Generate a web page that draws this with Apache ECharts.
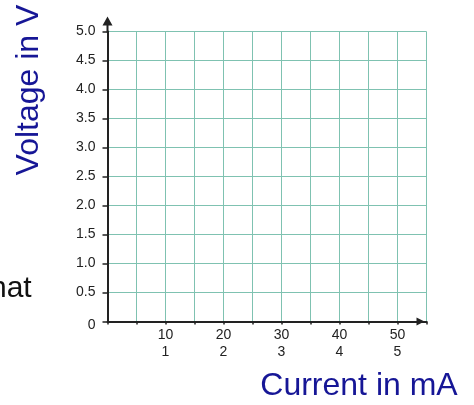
<!DOCTYPE html>
<html>
<head>
<meta charset="utf-8">
<script src="https://cdn.jsdelivr.net/npm/echarts@6/dist/echarts.min.js"></script>
<style>
html,body{margin:0;padding:0;background:#fff;}
#c{width:474px;height:405px;}
</style>
</head>
<body>
<div id="c"></div>
<script>
// Data
const currentMA = [10, 20, 30, 40, 50];
const currentSecondRow = [1, 2, 3, 4, 5];
const voltageTicks = [0, 0.5, 1.0, 1.5, 2.0, 2.5, 3.0, 3.5, 4.0, 4.5, 5.0];
const currentGrid = [5, 10, 15, 20, 25, 30, 35, 40, 45, 50, 55];
const xRange = [0, 55];
const xStep = 5;
const yStep = 0.5;
const yTitle = 'Voltage in V';
const xTitle = 'Current in mA';
const sideText = 'hat';
const seriesValues = [[0, 0]];

const chart = echarts.init(document.getElementById('c'), null, {renderer: 'canvas'});
const font = '"Liberation Sans", Arial, Helvetica, sans-serif';
const gridColor = '#7fc2b1';
const axisColor = '#222';

const gridLines = currentGrid.map(function (v) { return {xAxis: v}; })
  .concat(voltageTicks.slice(1).map(function (v) { return {yAxis: v}; }));

chart.setOption({
  animation: false,
  backgroundColor: '#fff',
  grid: {left: 107.5, right: 47.5, top: 31.5, bottom: 83.5, containLabel: false},
  xAxis: {
    type: 'value',
    min: xRange[0], max: xRange[1], interval: xStep,
    axisLine: {show: true, onZero: false, lineStyle: {color: axisColor, width: 2},
      symbol: ['none', 'path://M5,0 L10,10 L0,10 Z'], symbolSize: [8, 10], symbolOffset: [0, -6]},
    axisTick: {show: true, inside: false, length: 3, lineStyle: {color: axisColor, width: 1.5}},
    axisLabel: {
      show: true, margin: 5, color: axisColor, fontSize: 14, lineHeight: 17, fontFamily: font,
      formatter: function (v) {
        const i = currentMA.indexOf(Math.round(v));
        return i >= 0 ? currentMA[i] + '\n' + currentSecondRow[i] : '';
      }
    },
    splitLine: {show: false}
  },
  yAxis: {
    type: 'value',
    min: voltageTicks[0], max: voltageTicks[voltageTicks.length - 1], interval: yStep,
    axisLine: {show: true, onZero: false, lineStyle: {color: axisColor, width: 2},
      symbol: ['none', 'path://M5,0 L10,9 L6,9 L6,16 L4,16 L4,9 L0,9 Z'], symbolSize: [10, 16], symbolOffset: [0, 7]},
    axisTick: {show: true, inside: false, length: 5, lineStyle: {color: axisColor, width: 1.5}},
    axisLabel: {
      show: true, margin: 12, color: axisColor, fontSize: 14, fontFamily: font,
      formatter: function (v) {
        return v === 0 ? '{z|0}' : v.toFixed(1);
      },
      rich: {z: {fontSize: 14, color: axisColor, fontFamily: font, padding: [8, 0, 0, 0]}}
    },
    splitLine: {show: false}
  },
  series: [{
    type: 'line', data: seriesValues, symbol: 'none', silent: true,
    lineStyle: {opacity: 0, width: 0},
    markLine: {
      silent: true, animation: false, z: -1, symbol: 'none',
      label: {show: false},
      lineStyle: {color: gridColor, type: 'solid', width: 1},
      emphasis: {disabled: true},
      data: gridLines
    }
  }],
  graphic: [
    {type: 'text', x: 29, y: 90, rotation: Math.PI / 2,
      style: {text: yTitle, fill: '#161696', font: '32px ' + font, textAlign: 'center', textVerticalAlign: 'middle'}},
    {type: 'text', x: 359, y: 402,
      style: {text: xTitle, fill: '#161696', font: '32px ' + font, textAlign: 'center', textVerticalAlign: 'bottom'}},
    {type: 'text', x: -10, y: 304,
      style: {text: sideText, fill: '#111', font: '30px ' + font, textAlign: 'left', textVerticalAlign: 'bottom'}}
  ]
});
</script>
</body>
</html>
